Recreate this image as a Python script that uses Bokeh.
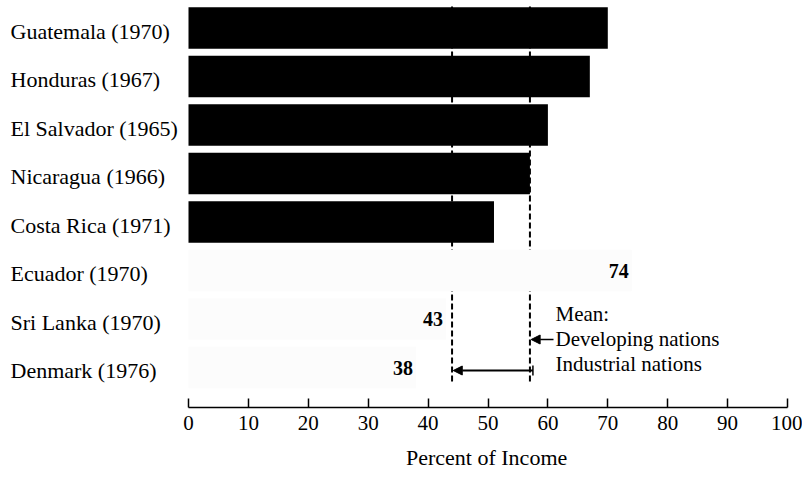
from bokeh.plotting import figure
from bokeh.models import Range1d, FixedTicker, Arrow, NormalHead, TeeHead
from bokeh.core.properties import value
from bokeh.embed import file_html
from bokeh.resources import INLINE

# ---------------- data ----------------
countries = ["Guatemala (1970)", "Honduras (1967)", "El Salvador (1965)",
             "Nicaragua (1966)", "Costa Rica (1971)", "Ecuador (1970)",
             "Sri Lanka (1970)", "Denmark (1976)"]
shares = [70, 67, 60, 57, 51, 74, 43, 38]
value_labels = ["", "", "", "", "", "74", "43", "38"]
mean_developing = 57
mean_industrial = 44
mean_lines = ["Mean:", "Developing nations", "Industrial nations"]
x_ticks = [0, 10, 20, 30, 40, 50, 60, 70, 80, 90, 100]
x_title = "Percent of Income"

# ---------------- layout / style ----------------
FONT = "Liberation Serif"
W, H = 802, 481
X0_PAGE = 188            # page x of value 0
PX = 5.99                # px per percent
ROW0 = 27.5              # page y of first row centre
PITCH = 48.5             # px per row
AXIS_PAGE = 407          # page y of x axis line
TITLE_PX = 22
TITLE_W = 164            # approx rendered width of the axis title

x_start = -X0_PAGE / PX
x_end = x_start + W / PX
y_bottom = (AXIS_PAGE - ROW0) / PITCH
y_top = (0 - ROW0) / PITCH

def page_y(py):
    return (py - ROW0) / PITCH

def page_x(px):
    return (px - X0_PAGE) / PX

bar_fill = ["black"] * 5 + ["#fcfcfc"] * 3
idx = list(range(len(countries)))

p = figure(width=W, height=H, output_backend="svg", toolbar_location=None,
           x_range=Range1d(x_start, x_end), y_range=Range1d(y_bottom, y_top),
           y_axis_location=None, title_location="below",
           min_border_left=0, min_border_right=0,
           min_border_top=0, min_border_bottom=H - AXIS_PAGE)
p.grid.visible = False
p.outline_line_color = None
p.background_fill_color = "white"
p.border_fill_color = "white"

# dashed mean lines (under the bars)
line_top = page_y(6)
line_bottom = page_y(383)
p.segment(x0=[mean_developing, mean_industrial], x1=[mean_developing, mean_industrial],
          y0=[line_top, line_top], y1=[line_bottom, line_bottom],
          line_color="black", line_width=2, line_dash="6 3")

# bars
p.hbar(y=idx, left=0, right=shares, height=0.86, fill_color=bar_fill, line_color=None)

# value labels
p.text(x=shares[5:], y=idx[5:], text=value_labels[5:], text_align="right",
       text_baseline="middle", x_offset=-3, text_font=value(FONT),
       text_font_size="20px", text_font_style="bold", text_color="black")

# category labels (left aligned)
p.text(x=[page_x(10)] * len(countries), y=idx, text=countries, text_align="left",
       text_baseline="middle", y_offset=3, text_font=value(FONT),
       text_font_size="22px", text_color="black")

# mean legend text
p.text(x=[page_x(555)] * 3, y=[page_y(313), page_y(338), page_y(363.5)], text=mean_lines,
       text_align="left", text_baseline="middle", text_font=value(FONT),
       text_font_size="21px", text_color="black")

# arrows
p.add_layout(Arrow(end=NormalHead(size=9, fill_color="black", line_color="black"),
                   x_start=page_x(553), y_start=page_y(339),
                   x_end=mean_developing + 0.2, y_end=page_y(339),
                   line_width=1.5, line_color="black"))
p.add_layout(Arrow(start=TeeHead(size=10, line_width=1.5, line_color="black"),
                   end=NormalHead(size=9, fill_color="black", line_color="black"),
                   x_start=mean_developing + 0.5, y_start=page_y(370),
                   x_end=mean_industrial + 0.2, y_end=page_y(370),
                   line_width=2, line_color="black"))

# x axis
ax = p.xaxis[0]
ax.ticker = FixedTicker(ticks=x_ticks)
ax.bounds = (0, 100)
ax.major_tick_in = 9
ax.major_tick_out = 0
ax.minor_tick_in = 0
ax.minor_tick_out = 0
ax.axis_line_width = 1.5
ax.axis_line_color = "black"
ax.major_tick_line_width = 1.5
ax.major_tick_line_color = "black"
ax.major_label_text_font = FONT
ax.major_label_text_font_size = "21px"
ax.major_label_text_color = "black"
ax.major_label_standoff = 8

# axis title, centred under the 0-100 axis (drawn as the plot title below)
centre_px = X0_PAGE + PX * (x_ticks[0] + x_ticks[-1]) / 2
p.title.text = x_title
p.title.align = "left"
p.title.offset = centre_px - TITLE_W / 2
p.title.text_font = FONT
p.title.text_font_size = f"{TITLE_PX}px"
p.title.text_font_style = "normal"
p.title.text_color = "black"
p.title.standoff = 20

open("out.html", "w").write(file_html(p, INLINE))
